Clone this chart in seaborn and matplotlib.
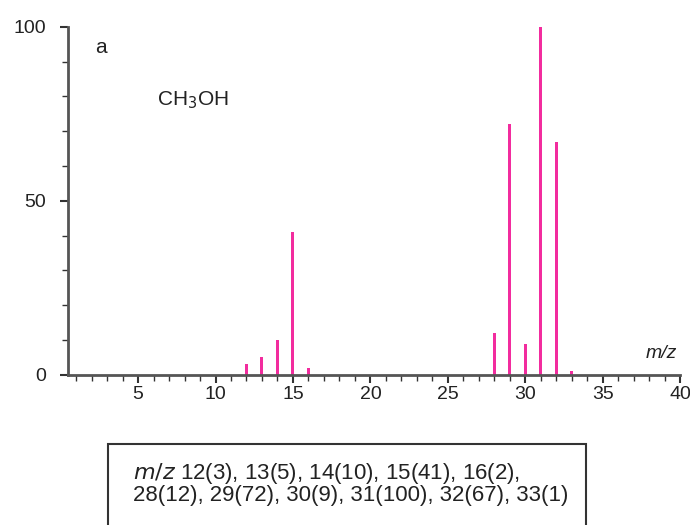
import numpy as np
import pandas as pd
import matplotlib
matplotlib.use("Agg")
import matplotlib.pyplot as plt
from matplotlib.ticker import MultipleLocator
import seaborn as sns

# mass spectrum of methanol (m/z, relative intensity)
mz = [12, 13, 14, 15, 16, 28, 29, 30, 31, 32, 33]
intensity = [3, 5, 10, 41, 2, 12, 72, 9, 100, 67, 1]
x_ticks = [5, 10, 15, 20, 25, 30, 35, 40]
y_ticks = [0, 50, 100]

bar_color = "#f22c9e"
axis_color = "#555555"

sns.set_theme(style="white")
plt.rcParams["font.family"] = ["Liberation Sans", "DejaVu Sans"]

df = pd.DataFrame({"mz": mz, "intensity": intensity})

fig = plt.figure(figsize=(6.9, 5.25), dpi=100)
ax = fig.add_axes([0.099, 0.286, 0.887, 0.663])

# bar width chosen to be ~3 px at this axes size
sns.barplot(data=df, x="mz", y="intensity", native_scale=True,
            width=0.1937, color=bar_color, saturation=1, linewidth=0, ax=ax)
for p in ax.patches:
    p.set_snap(True)
    p.set_antialiased(False)

ax.set_xlim(0.5, 40)
ax.set_ylim(0, 100)
ax.set_xticks(x_ticks)
ax.set_yticks(y_ticks)
ax.xaxis.set_minor_locator(MultipleLocator(1))
ax.yaxis.set_minor_locator(MultipleLocator(10))
ax.set_xlabel("")
ax.set_ylabel("")

for side in ["top", "right"]:
    ax.spines[side].set_visible(False)
for side in ["left", "bottom"]:
    ax.spines[side].set_color(axis_color)
    ax.spines[side].set_linewidth(2)

ax.tick_params(axis="both", which="major", direction="out", length=6, width=1.5,
               color="#333333", labelsize=14, labelcolor="#222222")
ax.tick_params(axis="both", which="minor", direction="out", length=4, width=1,
               color="#333333")
ax.tick_params(axis="x", which="both", bottom=True, pad=2)
ax.tick_params(axis="y", which="both", left=True, pad=10)

ax.text(2.2, 94, "a", fontsize=15, color="#222222", ha="left", va="center")
ax.text(6.2, 79, r"CH$_3$OH", fontsize=15, color="#222222", ha="left", va="center")
ax.text(39.8, 6, "m/z", fontsize=14, style="italic", color="#222222",
        ha="right", va="center")

fig.text(0.193, 0.079,
         r"$m/z$ 12(3), 13(5), 14(10), 15(41), 16(2)," + "\n"
         "28(12), 29(72), 30(9), 31(100), 32(67), 33(1)",
         fontsize=16, color="#222222", ha="left", va="center", linespacing=0.95)
box = plt.Rectangle((0.157, -0.02), 0.692, 0.174, transform=fig.transFigure,
                    fill=False, edgecolor="#333333", linewidth=1.5)
fig.add_artist(box)

fig.savefig("out.png", dpi=100)
